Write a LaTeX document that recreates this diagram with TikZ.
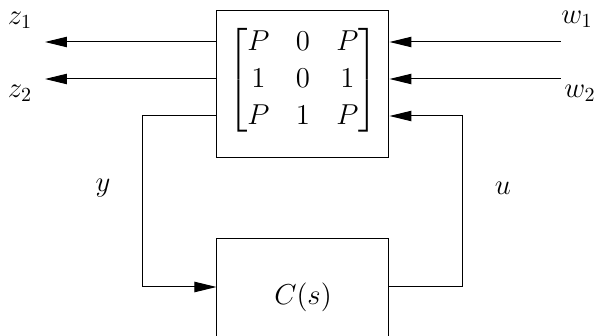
\documentclass[tikz,border=0pt]{standalone}
\usepackage{amsmath}
\usetikzlibrary{arrows.meta}
\tikzset{
  every node/.style={font=\fontsize{14}{17}\selectfont},
  blk/.style={draw, line width=0.5pt, inner sep=0pt},
  arr/.style={line width=0.5pt, -{Triangle[length=11pt,width=5.2pt]}},
}
\begin{document}
\begin{tikzpicture}[x=0.5pt,y=-0.5pt]
\clip (0,0) rectangle (602,336);
\useasboundingbox (0,0) rectangle (602,336);
\node[blk, minimum width=86pt, minimum height=73.5pt] (P) at (303,84.5) {};
\node[inner sep=0pt] (M) at (303,80) {$\setlength{\arraycolsep}{6.6pt}\renewcommand{\arraystretch}{1.09}\begin{bmatrix} P & 0 & P\\ 1 & 0 & 1\\ P & 1 & P\end{bmatrix}$};
\node[blk, minimum width=86pt, minimum height=58pt] (C) at (303,297) {$C(s)$};
% free ends
\coordinate (z1e) at (45,42);
\coordinate (z2e) at (45,79);
\coordinate (w1e) at (561,42);
\coordinate (w2e) at (561,79);
\coordinate (yc) at (143,116);
\coordinate (yb) at (143,287);
\coordinate (ub) at (463,287);
\coordinate (uc) at (463,116);
% labels
\node (z1) at (20,20) {$z_1$};
\node (z2) at (20,93) {$z_2$};
\node (w1) at (577,19) {$w_1$};
\node (w2) at (580,93) {$w_2$};
\node (yl) at (103,188) {$y$};
\node (ul) at (503,188) {$u$};
% connectors
\draw[arr] (P.west|-z1e) -- (z1e);
\draw[arr] (P.west|-z2e) -- (z2e);
\draw[arr] (w1e) -- (P.east|-w1e);
\draw[arr] (w2e) -- (P.east|-w2e);
\draw[arr] (P.west|-yc) -| (yb) -- (C.west|-yb);
\draw[arr] (C.east|-ub) -- (ub) |- (P.east|-uc);
\end{tikzpicture}
\end{document}
